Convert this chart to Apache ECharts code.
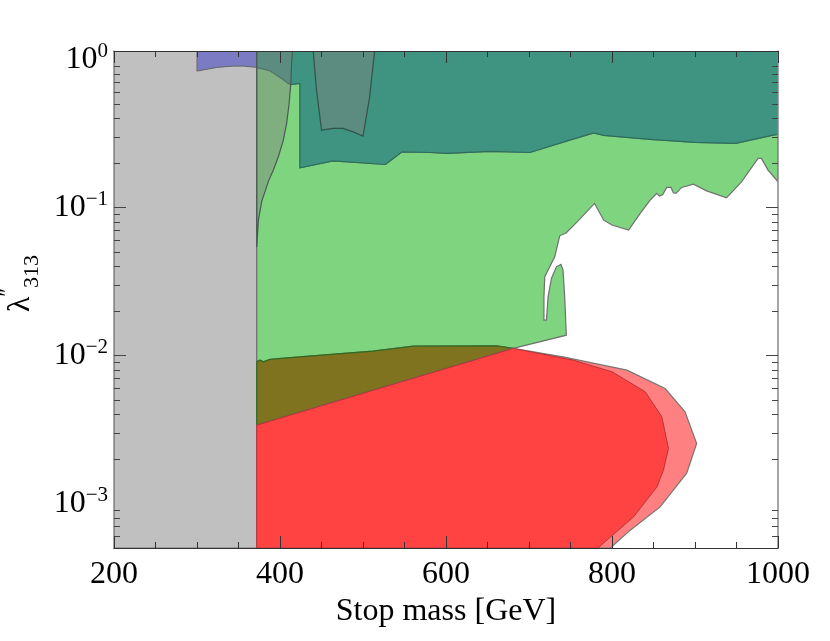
<!DOCTYPE html>
<html>
<head>
<meta charset="utf-8">
<script src="https://cdn.jsdelivr.net/npm/echarts@6/dist/echarts.min.js"></script>
<style>
html, body { margin: 0; padding: 0; background: #fff; }
#main { width: 830px; height: 641px; }
</style>
</head>
<body>
<div id="main"></div>
<script>
var FONT = "'Liberation Serif', 'DejaVu Serif', serif";

// axis ranges and ticks
var massRange = [200, 1000];
var lambdaRange = [0.0005, 1.14];
var lambdaLabels = [0.001, 0.01, 0.1, 1];
var lambdaMajor = [0.01, 0.1];
var lambdaMinor = [0.0006, 0.0007, 0.0008, 0.0009,
  0.002, 0.003, 0.004, 0.005, 0.006, 0.007, 0.008, 0.009,
  0.02, 0.03, 0.04, 0.05, 0.06, 0.07, 0.08, 0.09,
  0.2, 0.3, 0.4, 0.5, 0.6, 0.7, 0.8, 0.9];

// region outlines, [stop mass, lambda''_313]
var grayBox = [[200, 0.0005], [372, 0.0005], [372, 1.14], [200, 1.14]];
var blueEdge = [[300, 1.14], [372, 1.14], [372, 0.883], [356, 0.901], [344, 0.901], [324, 0.883], [300, 0.834]];
var tealEdge = [[372, 0.883], [388, 0.838], [402, 0.744], [410, 0.689], [414, 0.678], [424, 0.689],
  [424, 0.185], [464, 0.206], [527, 0.195], [547, 0.2375], [581, 0.235], [601, 0.232], [653, 0.239],
  [701, 0.235], [749, 0.285], [778, 0.319], [790, 0.3065], [846, 0.288], [900, 0.275], [949, 0.2706],
  [994, 0.308], [1000, 0.311]];
var greenEdge = [[1000, 0.149], [988, 0.1786], [980, 0.2143], [976, 0.2143], [956, 0.149], [938, 0.116],
  [914, 0.1294], [898, 0.1437], [884, 0.1365], [877, 0.1244], [874, 0.1255], [871, 0.1365], [866, 0.1365],
  [861, 0.1217], [857, 0.1192], [854, 0.1244], [846, 0.112], [834, 0.0911], [820, 0.0703], [800, 0.076],
  [790, 0.082], [779, 0.1064], [758, 0.0799], [745, 0.0674], [737, 0.0643], [731, 0.0464], [725, 0.0397],
  [719, 0.034], [718, 0.0249], [718, 0.0173], [721, 0.0173], [723, 0.0249], [727, 0.0331], [733, 0.0397],
  [738.5, 0.0412], [741, 0.0377], [743, 0.0249], [745, 0.0137]];
var greenBottom = [[681, 0.01115], [661, 0.0116], [561, 0.01155], [512, 0.0107], [424, 0.00978],
  [388, 0.0094], [380, 0.00905], [376, 0.0093], [372, 0.00905]];
var redCorner = [[372, 0.0005], [372, 0.00338]];
var redEdge = [[681, 0.01115], [753, 0.0093], [800, 0.00775], [840, 0.00568], [860, 0.00385], [868, 0.00235],
  [862, 0.00168], [854, 0.00129], [826, 0.000812], [783, 0.0005]];
var pinkEdge = [[681, 0.01115], [741, 0.00978], [818, 0.00796], [864, 0.00598], [888, 0.00416], [902, 0.00254],
  [890, 0.0016], [858, 0.000948], [822, 0.00066], [798, 0.0005]];
var shadeEdge = [[372, 1.14], [415, 1.14], [414, 0.94], [413, 0.689], [411, 0.504], [408, 0.37], [404, 0.285],
  [398, 0.22], [392, 0.179], [386, 0.15], [378, 0.11], [374, 0.082], [372, 0.054]];
var bucketEdge = [[440, 1.14], [444, 0.62], [450, 0.333], [464, 0.342], [476, 0.342], [488, 0.324],
  [500, 0.303], [508, 0.559], [514, 1.14]];

var tealPoly = [[372, 1.14], [1000, 1.14]].concat(tealEdge.slice().reverse());
var greenPoly = tealEdge.concat(greenEdge, greenBottom);
var olivePoly = greenBottom.slice().reverse().concat([[372, 0.00338]]);
var redPoly = redCorner.concat(redEdge);
var pinkPoly = redCorner.concat(pinkEdge);

function region(name, points, fill, stroke, width) {
  return {
    type: 'custom',
    name: name,
    coordinateSystem: 'cartesian2d',
    xAxisIndex: 0,
    yAxisIndex: 0,
    clip: true,
    silent: true,
    data: points,
    encode: { x: 0, y: 1 },
    renderItem: function (params, api) {
      if (params.dataIndex !== 0) return;
      var pts = points.map(function (p) { return api.coord(p); });
      return {
        type: 'polygon',
        shape: { points: pts },
        style: { fill: fill, stroke: stroke, lineWidth: width }
      };
    }
  };
}

function xAxisCfg(pos) {
  return {
    type: 'value',
    position: pos,
    min: massRange[0],
    max: massRange[1],
    interval: 200,
    z: 10,
    axisLine: { show: true, lineStyle: { color: '#333', width: 1.2 } },
    axisTick: { show: true, inside: true, length: 12, lineStyle: { color: '#333' } },
    minorTick: { show: true, splitNumber: 4, length: 6, lineStyle: { color: '#333' } },
    splitLine: { show: false },
    axisLabel: pos === 'bottom'
      ? { show: true, fontFamily: FONT, fontSize: 32, color: '#000', margin: 11,
          formatter: function (v) { return String(v); } }
      : { show: false },
    name: pos === 'bottom' ? 'Stop mass [GeV]' : '',
    nameLocation: 'middle',
    nameGap: 45,
    nameTextStyle: { fontFamily: FONT, fontSize: 32, color: '#000' }
  };
}

function yAxisCfg(pos, ticks, len, withLabels) {
  return {
    type: 'log',
    logBase: 10,
    position: pos,
    min: lambdaRange[0],
    max: lambdaRange[1],
    z: 10,
    axisLine: { show: withLabels, lineStyle: { color: '#888', width: 1.5 } },
    axisTick: { show: true, inside: true, length: len, customValues: ticks, lineStyle: { color: '#444' } },
    splitLine: { show: false },
    axisLabel: (withLabels && pos === 'left') ? {
      show: true,
      customValues: lambdaLabels,
      margin: 6,
      formatter: function (v) {
        var e = Math.round(Math.log10(v));
        return '{b|10}{s|' + (e < 0 ? '\u2212' + (-e) : e) + '}';
      },
      rich: {
        b: { fontFamily: FONT, fontSize: 32, color: '#000', lineHeight: 36 },
        s: { fontFamily: FONT, fontSize: 21, color: '#000', verticalAlign: 'top' }
      }
    } : { show: false },
    name: (withLabels && pos === 'left') ? '{l|λ}{p|\u2033}{s|313}' : '',
    nameLocation: 'middle',
    nameRotate: 90,
    nameGap: 64,
    nameTextStyle: {
      padding: [0, 0, 0, 32],
      rich: {
        l: { fontFamily: FONT, fontSize: 32, color: '#000', lineHeight: 44 },
        p: { fontFamily: FONT, fontSize: 20, color: '#000', verticalAlign: 'top' },
        s: { fontFamily: FONT, fontSize: 22, color: '#000', verticalAlign: 'bottom' }
      }
    }
  };
}

var chart = echarts.init(document.getElementById('main'));
var option = {
  backgroundColor: '#fff',
  animation: false,
  grid: { left: 114, right: 52, top: 51, bottom: 93, containLabel: false, outerBoundsMode: 'none' },
  xAxis: [xAxisCfg('bottom'), xAxisCfg('top')],
  yAxis: [
    yAxisCfg('left', lambdaMajor, 12, true),
    yAxisCfg('left', lambdaMinor, 6, false),
    yAxisCfg('right', lambdaMajor, 12, true),
    yAxisCfg('right', lambdaMinor, 6, false)
  ],
  series: [
    region('gray', grayBox, '#c0c0c0', '#777', 1.2),
    region('blue', blueEdge, '#7b7bc4', '#666', 1),
    region('green', greenPoly, '#7fd47f', '#707070', 1.2),
    region('teal', tealPoly, '#3e9480', '#2b6f5b', 1.2),
    region('olive', olivePoly, '#7f7320', '#2f6b1f', 1.2),
    region('pink', pinkPoly, '#ff8080', '#777', 1.2),
    region('red', redPoly, '#ff4242', '#b83434', 1),
    region('shade', shadeEdge, 'rgba(128,128,128,0.45)', '#4a5a55', 1.2),
    region('bucket', bucketEdge, 'rgba(128,128,128,0.45)', '#35524a', 1.2)
  ]
};
chart.setOption(option);
</script>
</body>
</html>
